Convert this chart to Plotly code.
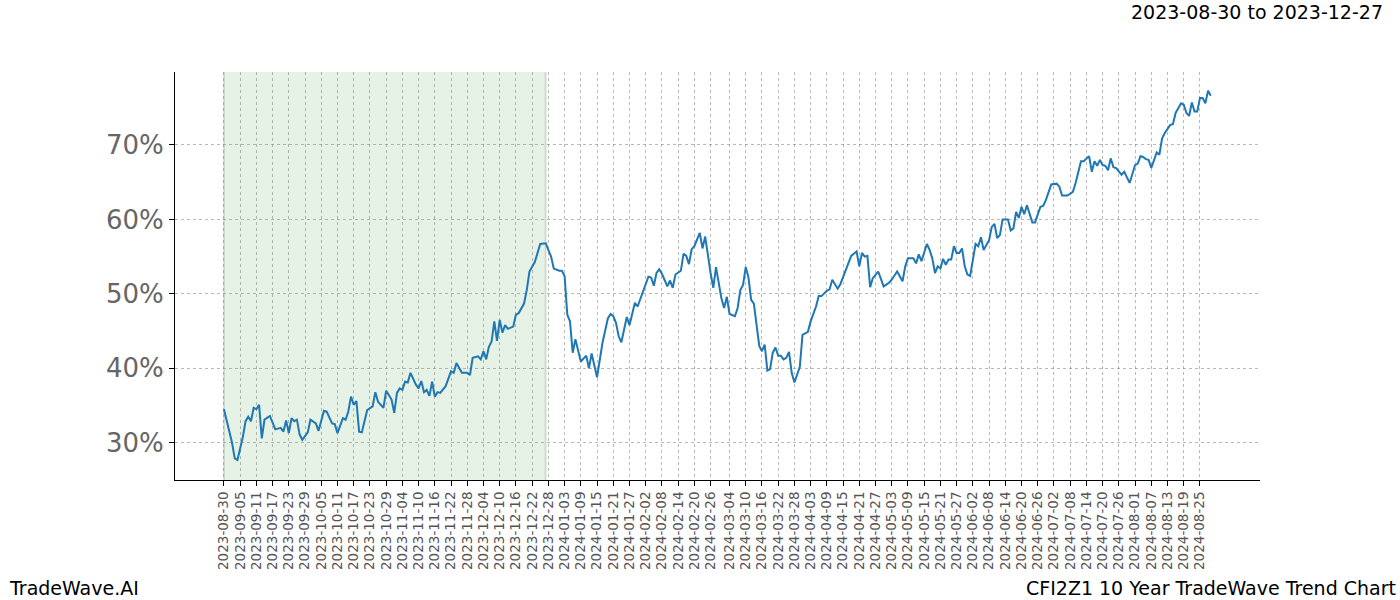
import pandas as pd
import plotly.graph_objects as go

dates = [
    "2023-08-30", "2023-09-02", "2023-09-03", "2023-09-04", "2023-09-06", "2023-09-07", "2023-09-08",
    "2023-09-09", "2023-09-10", "2023-09-11", "2023-09-12", "2023-09-13", "2023-09-14", "2023-09-16",
    "2023-09-18", "2023-09-20", "2023-09-21", "2023-09-22", "2023-09-23", "2023-09-24", "2023-09-25",
    "2023-09-26", "2023-09-27", "2023-09-28", "2023-09-30", "2023-10-01", "2023-10-03", "2023-10-04",
    "2023-10-06", "2023-10-07", "2023-10-09", "2023-10-10", "2023-10-11", "2023-10-13", "2023-10-14",
    "2023-10-15", "2023-10-16", "2023-10-17", "2023-10-18", "2023-10-19", "2023-10-20", "2023-10-22",
    "2023-10-24", "2023-10-25", "2023-10-26", "2023-10-28", "2023-10-29", "2023-10-31", "2023-11-01",
    "2023-11-02", "2023-11-03", "2023-11-04", "2023-11-05", "2023-11-06", "2023-11-07", "2023-11-09",
    "2023-11-10", "2023-11-11", "2023-11-12", "2023-11-13", "2023-11-14", "2023-11-15", "2023-11-16",
    "2023-11-17", "2023-11-18", "2023-11-20", "2023-11-22", "2023-11-23", "2023-11-24", "2023-11-26",
    "2023-11-28", "2023-11-29", "2023-11-30", "2023-12-02", "2023-12-03", "2023-12-04", "2023-12-05",
    "2023-12-06", "2023-12-07", "2023-12-08", "2023-12-09", "2023-12-10", "2023-12-11", "2023-12-12",
    "2023-12-13", "2023-12-15", "2023-12-16", "2023-12-17", "2023-12-19", "2023-12-20", "2023-12-21",
    "2023-12-23", "2023-12-25", "2023-12-27", "2023-12-29", "2023-12-30", "2024-01-01", "2024-01-02",
    "2024-01-03", "2024-01-04", "2024-01-05", "2024-01-06", "2024-01-07", "2024-01-09", "2024-01-11",
    "2024-01-12", "2024-01-13", "2024-01-15", "2024-01-17", "2024-01-19", "2024-01-20", "2024-01-21",
    "2024-01-22", "2024-01-23", "2024-01-24", "2024-01-26", "2024-01-27", "2024-01-29", "2024-01-30",
    "2024-02-01", "2024-02-03", "2024-02-04", "2024-02-05", "2024-02-06", "2024-02-07", "2024-02-08",
    "2024-02-10", "2024-02-11", "2024-02-12", "2024-02-13", "2024-02-15", "2024-02-16", "2024-02-17",
    "2024-02-18", "2024-02-19", "2024-02-20", "2024-02-22", "2024-02-23", "2024-02-24", "2024-02-26",
    "2024-02-27", "2024-02-28", "2024-03-01", "2024-03-02", "2024-03-03", "2024-03-04", "2024-03-06",
    "2024-03-07", "2024-03-08", "2024-03-09", "2024-03-10", "2024-03-11", "2024-03-12", "2024-03-13",
    "2024-03-15", "2024-03-16", "2024-03-17", "2024-03-18", "2024-03-19", "2024-03-20", "2024-03-21",
    "2024-03-22", "2024-03-23", "2024-03-24", "2024-03-25", "2024-03-26", "2024-03-27", "2024-03-28",
    "2024-03-29", "2024-03-30", "2024-03-31", "2024-04-02", "2024-04-03", "2024-04-05", "2024-04-06",
    "2024-04-07", "2024-04-09", "2024-04-10", "2024-04-11", "2024-04-13", "2024-04-14", "2024-04-16",
    "2024-04-18", "2024-04-19", "2024-04-20", "2024-04-21", "2024-04-22", "2024-04-23", "2024-04-24",
    "2024-04-25", "2024-04-26", "2024-04-28", "2024-04-29", "2024-04-30", "2024-05-02", "2024-05-03",
    "2024-05-05", "2024-05-07", "2024-05-08", "2024-05-09", "2024-05-11", "2024-05-12", "2024-05-13",
    "2024-05-14", "2024-05-16", "2024-05-17", "2024-05-18", "2024-05-19", "2024-05-20", "2024-05-21",
    "2024-05-22", "2024-05-23", "2024-05-24", "2024-05-25", "2024-05-26", "2024-05-27", "2024-05-28",
    "2024-05-29", "2024-05-30", "2024-05-31", "2024-06-01", "2024-06-03", "2024-06-04", "2024-06-05",
    "2024-06-06", "2024-06-08", "2024-06-09", "2024-06-10", "2024-06-11", "2024-06-12", "2024-06-13",
    "2024-06-15", "2024-06-16", "2024-06-17", "2024-06-18", "2024-06-19", "2024-06-20", "2024-06-21",
    "2024-06-22", "2024-06-24", "2024-06-25", "2024-06-27", "2024-06-28", "2024-06-29", "2024-07-01",
    "2024-07-03", "2024-07-04", "2024-07-05", "2024-07-06", "2024-07-07", "2024-07-09", "2024-07-10",
    "2024-07-12", "2024-07-13", "2024-07-15", "2024-07-16", "2024-07-17", "2024-07-18", "2024-07-19",
    "2024-07-20", "2024-07-21", "2024-07-22", "2024-07-23", "2024-07-24", "2024-07-25", "2024-07-27",
    "2024-07-28", "2024-07-30", "2024-08-01", "2024-08-02", "2024-08-03", "2024-08-04", "2024-08-05",
    "2024-08-06", "2024-08-07", "2024-08-08", "2024-08-09", "2024-08-10", "2024-08-11", "2024-08-12",
    "2024-08-14", "2024-08-15", "2024-08-16", "2024-08-18", "2024-08-19", "2024-08-20", "2024-08-21",
    "2024-08-22", "2024-08-23", "2024-08-24", "2024-08-25", "2024-08-26", "2024-08-27", "2024-08-28",
    "2024-08-29",
]

values = [
    34.5, 30.0, 27.9, 27.7, 30.8, 32.9, 33.5,
    32.9, 34.7, 34.5, 35.1, 30.6, 33.1, 33.6,
    31.8, 32.0, 31.5, 33.0, 31.3, 33.3, 32.9,
    33.1, 31.1, 30.4, 31.4, 33.1, 32.6, 31.6,
    34.3, 34.2, 32.6, 32.5, 31.3, 33.3, 33.1,
    34.2, 36.2, 35.1, 35.6, 31.5, 31.4, 34.4,
    34.9, 36.8, 35.5, 34.7, 37.0, 35.8, 34.0,
    36.7, 37.3, 37.1, 38.2, 38.1, 39.4, 37.8,
    37.3, 38.3, 36.8, 37.1, 36.3, 38.2, 36.2,
    36.8, 36.7, 37.6, 39.6, 39.4, 40.7, 39.4,
    39.4, 39.1, 41.4, 41.6, 41.2, 42.3, 41.2,
    42.9, 43.6, 46.3, 43.7, 46.5, 44.8, 45.8,
    45.3, 45.6, 47.2, 47.4, 48.7, 50.5, 53.0,
    54.3, 56.7, 56.8, 55.0, 53.4, 53.1, 53.1,
    52.4, 47.2, 46.3, 42.1, 43.9, 40.9, 41.7,
    40.0, 42.0, 38.8, 43.4, 46.7, 47.3, 47.0,
    46.1, 44.3, 43.5, 46.9, 45.8, 48.8, 48.3,
    50.4, 52.3, 52.2, 51.1, 52.8, 53.3, 52.7,
    51.0, 51.8, 50.8, 52.6, 53.1, 55.4, 55.1,
    54.0, 56.0, 56.4, 58.2, 56.1, 57.7, 52.8,
    50.8, 53.6, 49.4, 48.1, 49.6, 47.3, 47.0,
    48.1, 50.5, 51.2, 53.6, 52.2, 49.2, 48.7,
    43.0, 42.3, 43.2, 39.7, 39.9, 42.1, 42.8,
    41.7, 41.7, 41.2, 41.4, 42.2, 39.4, 38.1,
    39.3, 40.2, 44.5, 44.9, 46.3, 48.3, 49.7,
    49.7, 50.4, 50.6, 51.9, 50.7, 51.3, 53.3,
    55.1, 55.4, 55.7, 53.7, 55.5, 55.0, 55.1,
    50.9, 52.1, 53.0, 51.9, 51.0, 51.5, 51.9,
    53.0, 51.7, 53.7, 54.8, 54.8, 54.1, 55.3,
    54.4, 56.7, 55.9, 54.8, 52.8, 53.7, 53.4,
    54.7, 53.9, 54.6, 54.6, 56.4, 55.5, 55.5,
    56.1, 53.7, 52.6, 52.4, 56.7, 56.4, 57.6,
    55.9, 57.2, 59.0, 59.4, 57.5, 57.9, 60.0,
    60.0, 58.5, 58.8, 61.0, 60.2, 61.7, 60.7,
    61.9, 59.6, 59.6, 61.7, 61.8, 62.6, 64.7,
    64.8, 64.4, 63.2, 63.2, 63.2, 63.7, 64.9,
    67.8, 67.8, 68.5, 66.4, 67.8, 67.2, 68.0,
    67.3, 67.2, 66.6, 68.2, 67.0, 66.9, 66.0,
    66.4, 64.9, 67.3, 67.5, 68.5, 68.4, 68.1,
    68.0, 66.9, 68.0, 69.0, 68.7, 70.9, 71.6,
    72.7, 72.8, 74.3, 75.6, 75.4, 74.3, 73.9,
    75.7, 74.5, 74.5, 76.3, 76.3, 75.6, 77.3,
    76.6,
]

x_tick_labels = [
    "2023-08-30", "2023-09-05", "2023-09-11", "2023-09-17", "2023-09-23", "2023-09-29",
    "2023-10-05", "2023-10-11", "2023-10-17", "2023-10-23", "2023-10-29", "2023-11-04",
    "2023-11-10", "2023-11-16", "2023-11-22", "2023-11-28", "2023-12-04", "2023-12-10",
    "2023-12-16", "2023-12-22", "2023-12-28", "2024-01-03", "2024-01-09", "2024-01-15",
    "2024-01-21", "2024-01-27", "2024-02-02", "2024-02-08", "2024-02-14", "2024-02-20",
    "2024-02-26", "2024-03-04", "2024-03-10", "2024-03-16", "2024-03-22", "2024-03-28",
    "2024-04-03", "2024-04-09", "2024-04-15", "2024-04-21", "2024-04-27", "2024-05-03",
    "2024-05-09", "2024-05-15", "2024-05-21", "2024-05-27", "2024-06-02", "2024-06-08",
    "2024-06-14", "2024-06-20", "2024-06-26", "2024-07-02", "2024-07-08", "2024-07-14",
    "2024-07-20", "2024-07-26", "2024-08-01", "2024-08-07", "2024-08-13", "2024-08-19",
    "2024-08-25",
]

y_ticks = [30, 40, 50, 60, 70]
y_tick_labels = ["30%", "40%", "50%", "60%", "70%"]

shade_start = "2023-08-30"
shade_end = "2023-12-27"

title_text = "2023-08-30 to 2023-12-27"
left_footer = "TradeWave.AI"
right_footer = "CFI2Z1 10 Year TradeWave Trend Chart"

FONT = "DejaVu Sans"

fig = go.Figure()
fig.add_trace(go.Scatter(
    x=pd.to_datetime(dates), y=values, mode="lines",
    line=dict(color="#1f77b4", width=2), hoverinfo="skip", showlegend=False,
))

# shaded period
fig.add_shape(type="rect", xref="x", yref="paper", x0=shade_start, x1=shade_end,
              y0=0, y1=1, fillcolor="rgba(0,128,0,0.1)", line=dict(width=0), layer="below")
for edge in (shade_start, shade_end):
    fig.add_shape(type="line", xref="x", yref="paper", x0=edge, x1=edge, y0=0, y1=1,
                  line=dict(color="rgba(0,0,0,0.12)", width=2), layer="below")

fig.update_layout(
    width=1400, height=600,
    margin=dict(l=175, r=140, t=72, b=120),
    paper_bgcolor="white", plot_bgcolor="white",
    font=dict(family=FONT),
    showlegend=False,
)

fig.update_xaxes(
    type="date",
    range=["2023-08-11 21:36", "2024-09-16 05:00"],
    tickmode="array", tickvals=pd.to_datetime(x_tick_labels), ticktext=x_tick_labels,
    tickangle=-90, tickfont=dict(size=13.5, color="#555555", family=FONT),
    ticks="outside", ticklen=5, tickcolor="black", tickwidth=1,
    showline=True, linecolor="black", linewidth=1.2,
    showgrid=True, gridcolor="rgba(128,128,128,0.55)", griddash="dot", gridwidth=0.8,
    zeroline=False,
)
fig.update_yaxes(
    range=[25.0, 79.8],
    tickmode="array", tickvals=y_ticks, ticktext=y_tick_labels,
    tickfont=dict(size=26, color="#666666", family=FONT),
    ticks="outside", ticklen=5, tickcolor="black", tickwidth=1,
    showline=True, linecolor="black", linewidth=1.2,
    showgrid=True, gridcolor="rgba(128,128,128,0.55)", griddash="dot", gridwidth=0.8,
    zeroline=False,
)

fig.add_annotation(text=title_text, xref="paper", yref="paper",
                   x=(1385 - 175) / 1085, y=(480 - 12) / 408,
                   xanchor="right", yanchor="middle", showarrow=False,
                   font=dict(size=19, color="black", family=FONT))
fig.add_annotation(text=left_footer, xref="paper", yref="paper",
                   x=(7 - 175) / 1085, y=(480 - 588) / 408,
                   xanchor="left", yanchor="middle", showarrow=False,
                   font=dict(size=19, color="black", family=FONT))
fig.add_annotation(text=right_footer, xref="paper", yref="paper",
                   x=(1398 - 175) / 1085, y=(480 - 588) / 408,
                   xanchor="right", yanchor="middle", showarrow=False,
                   font=dict(size=19, color="black", family=FONT))

fig.write_html("out.html")
